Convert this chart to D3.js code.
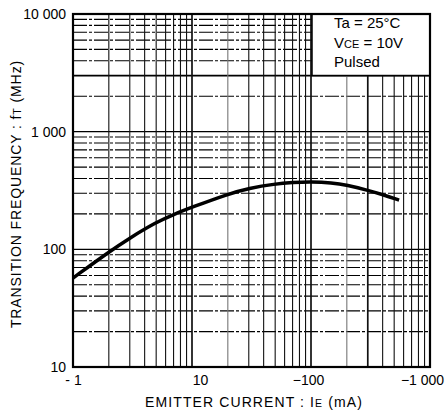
<!DOCTYPE html>
<html>
<head>
<meta charset="utf-8">
<script src="https://cdn.jsdelivr.net/npm/d3@7"></script>
<style>
    body { margin: 0; background: #fff; }
    text { font-family: "Liberation Sans", Arial, sans-serif; fill: #000; }
</style>
</head>
<body>
<svg id="ft_graph"></svg>
<script>
// emitter current |IE| (mA) and transition frequency fT (MHz)
emitter_current = [1, 2, 3, 5, 7, 10, 20, 30, 50, 70, 100, 150, 200, 300, 400, 550]
transition_freq = [57, 95, 125, 170, 198, 228, 295, 330, 360, 370, 375, 368, 352, 318, 292, 262]

x_ticks = [1, 10, 100, 1000]
x_tick_labels = ["- 1", "10", "\u2212100", "\u22121 000"]
y_ticks = [10, 100, 1000, 10000]
y_tick_labels = ["10", "100", "1 000", "10 000"]

legend_lines = ["Ta = 25\u00b0C", "VCE = 10V", "Pulsed"]

function createGraph() {

    left = 73; right = 430; top_ = 14; bottom = 367;

    var svg = d3.select("#ft_graph")
        .attr("width", 445)
        .attr("height", 410)

    const xScale = d3.scaleLog().domain([1, 1000]).range([left, right])
    const yScale = d3.scaleLog().domain([10, 10000]).range([bottom, top_])

    // minor grid values: 1..9 times each decade
    var xGrid = []
    for (const d of [1, 10, 100])
        for (let k = 1; k < 10; k++) xGrid.push(k * d)
    var yGrid = []
    for (const d of [10, 100, 1000])
        for (let k = 1; k < 10; k++) yGrid.push(k * d)

    var grid = svg.append("g")

    grid.selectAll(".hline")
        .data(yGrid.filter(v => v > 10))
        .enter().append("line")
        .attr("x1", left).attr("x2", right)
        .attr("y1", d => yScale(d)).attr("y2", d => yScale(d))
        .attr("stroke", "#000")
        .attr("stroke-width", d => (d == 3000) ? 1.8 : 1.1)
        .attr("stroke-dasharray", d => (d == 3000 || d == 100 || d == 1000) ? null : "14,2,3,2")

    grid.selectAll(".vline")
        .data(xGrid.filter(v => v > 1))
        .enter().append("line")
        .attr("x1", d => xScale(d)).attr("x2", d => xScale(d))
        .attr("y1", top_).attr("y2", bottom)
        .attr("stroke", d => (d == 200 || d == 20) ? "#777" : "#111")
        .attr("stroke-width", d => (d == 10 || d == 100 || d == 300) ? 1.7 : 1.1)

    // legend box
    svg.append("rect")
        .attr("x", 312).attr("y", top_)
        .attr("width", right - 312).attr("height", yScale(3000) - top_)
        .attr("fill", "#fff")
        .attr("stroke", "#000")
        .attr("stroke-width", 1.5)

    var legend = svg.append("g").attr("font-size", 15)
    legend.append("text").attr("x", 334).attr("y", 28).text(legend_lines[0])
    var vce = legend.append("text").attr("x", 334).attr("y", 48)
    vce.append("tspan").text("V")
    vce.append("tspan").attr("font-size", 11).text("CE")
    vce.append("tspan").text(" = 10V")
    legend.append("text").attr("x", 334).attr("y", 67).text(legend_lines[2])

    // frame
    svg.append("rect")
        .attr("x", left).attr("y", top_)
        .attr("width", right - left).attr("height", bottom - top_)
        .attr("fill", "none")
        .attr("stroke", "#000")
        .attr("stroke-width", 2.2)

    // curve
    svg.append("path")
        .datum(d3.zip(emitter_current, transition_freq))
        .attr("fill", "none")
        .attr("stroke", "#000")
        .attr("stroke-width", 3.5)
        .attr("d", d3.line()
            .x(function(d) { return xScale(d[0]) })
            .y(function(d) { return yScale(d[1]) })
            .curve(d3.curveBasis))

    // tick labels
    var xAxis = svg.append("g")
        .attr("transform", "translate(0," + (bottom + 5) + ")")
        .call(d3.axisBottom(xScale).tickValues(x_ticks).tickSize(0)
            .tickFormat((d, i) => x_tick_labels[i]))
    xAxis.select(".domain").remove()
    xAxis.selectAll("text")
        .attr("font-size", 14)
        .attr("font-family", "Liberation Sans, Arial, sans-serif")
        .attr("dx", (d, i) => [0, 8, -3, -8][i])

    var yAxis = svg.append("g")
        .attr("transform", "translate(" + (left - 4) + ",0)")
        .call(d3.axisLeft(yScale).tickValues(y_ticks).tickSize(0)
            .tickFormat((d, i) => y_tick_labels[i]))
    yAxis.select(".domain").remove()
    yAxis.selectAll("text")
        .attr("font-size", 14)
        .attr("font-family", "Liberation Sans, Arial, sans-serif")
        .attr("dx", 0)

    loadTitles(svg)
}

function loadTitles(svg) {
    var tx = svg.append("text")
        .attr("x", 254).attr("y", 407)
        .attr("text-anchor", "middle")
        .attr("font-size", 14)
        .attr("letter-spacing", 1.1)
    tx.append("tspan").text("EMITTER CURRENT : I")
    tx.append("tspan").attr("font-size", 10.5).text("E")
    tx.append("tspan").text("  (mA)")

    var ty = svg.append("text")
        .attr("transform", "translate(21,194) rotate(-90)")
        .attr("text-anchor", "middle")
        .attr("font-size", 14)
        .attr("letter-spacing", 0.9)
    ty.append("tspan").text("TRANSITION FREQUENCY : f")
    ty.append("tspan").attr("font-size", 10.5).text("T")
    ty.append("tspan").text("  (MHz)")
}

createGraph()
</script>
</body>
</html>
